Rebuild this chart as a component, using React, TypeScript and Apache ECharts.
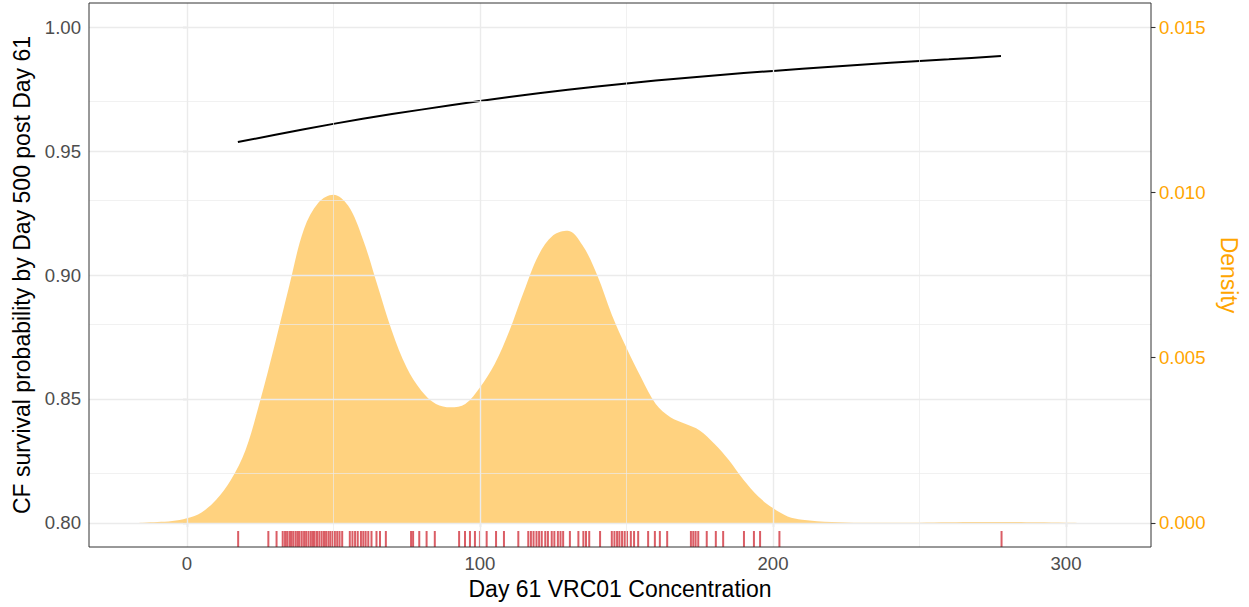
import React, { useEffect, useRef } from "react";
import * as echarts from "echarts";

// Tick values
const xTicks = [0, 100, 200, 300];
const xMinor = [50, 150, 250];
const yTicks = [0.8, 0.85, 0.9, 0.95, 1.0];
const yMinor = [0.825, 0.875, 0.925, 0.975];
const densTicks = [0, 0.005, 0.01, 0.015];

// Survival curve (left axis)
const curveX = [17.4, 40, 60, 80, 100, 120, 140, 160, 180, 200, 220, 240, 260, 277.8];
const curveY = [0.9536, 0.9588, 0.963, 0.9667, 0.9702, 0.9733, 0.976, 0.9784, 0.9805, 0.9823, 0.984, 0.9856, 0.987, 0.9883];

// Density (right axis)
const densX = [-20, -15, -10, -5, 0, 5, 10, 15, 20, 25, 30, 35, 40, 45, 50, 55, 60, 65, 70, 75, 80, 85, 90, 95, 100, 105, 110, 115, 120, 125, 130, 135, 140, 145, 150, 155, 160, 165, 170, 175, 180, 185, 190, 195, 200, 205, 210, 220, 230, 240, 250, 260, 270, 280, 290, 300, 310];
const densY = [0, 0.00001, 0.00003, 0.00006, 0.00014, 0.00032, 0.0007, 0.0013, 0.0022, 0.0037, 0.0054, 0.0072, 0.0089, 0.0097, 0.00993, 0.0096, 0.0086, 0.0072, 0.0058, 0.0047, 0.004, 0.0036, 0.0035, 0.0036, 0.0041, 0.0048, 0.0058, 0.007, 0.0081, 0.0087, 0.00884, 0.0084, 0.0075, 0.0063, 0.0053, 0.0044, 0.0036, 0.0032, 0.003, 0.0028, 0.0024, 0.0019, 0.0013, 0.0008, 0.00045, 0.0002, 0.0001, 0.00003, 0.00001, 0.00001, 0.00001, 0.00002, 0.00003, 0.00003, 0.00002, 0.00001, 0];

// Rug (observed concentrations)
const rugX = [
  17.5, 27.8, 30.6,
  32.7, 33.5, 34.2, 35.0, 35.6, 36.3, 37.1, 37.8, 38.4, 39.2, 40.0, 40.7, 41.5, 42.3, 43.0, 43.6, 44.4, 45.2, 46.0, 46.8, 47.5, 48.3, 49.0, 49.8, 50.5, 51.3, 52.1, 53.0,
  55.6, 56.5, 57.4, 58.3, 59.4, 60.2, 61.0, 61.9,
  63.0, 64.7, 65.9, 67.9,
  76.5, 77.2, 79.3, 81.8, 84.6,
  92.9, 94.9, 96.6, 98.3, 100.0, 102.3, 105.5, 108.2, 113.1,
  116.5, 117.4, 118.3, 119.3, 120.2, 121.1, 122.3, 123.2, 124.5, 125.4, 126.6, 127.5, 128.4,
  130.7, 133.6, 135.3, 136.2, 137.3,
  141.0,
  145.0, 145.9, 146.8, 147.6, 148.5, 149.4, 150.2, 151.5, 152.6, 154.0,
  157.4, 159.7, 161.4, 163.9,
  172.0, 172.8, 173.6, 174.5,
  177.4, 180.5, 183.0, 190.1, 193.5, 195.6, 202.2, 278.0,
];

const X_MIN = -33.4;
const X_MAX = 329;
const Y_MIN = 0.7903;
const Y_MAX = 1.0097;
const D_MIN = -0.000726;
const D_MAX = 0.015726;

const FONT = "'Liberation Sans', Arial, Helvetica, sans-serif";
const GRID_COLOR = "#EBEBEB";

export default function App() {
  const ref = useRef<HTMLDivElement>(null);

  useEffect(() => {
    document.body.style.margin = "0";
    if (!ref.current) return;
    const chart = echarts.init(ref.current, undefined, { renderer: "svg" });

    const gridLines: any[] = [
      ...xMinor.map((v) => ({ xAxis: v, lineStyle: { width: 0.7, color: GRID_COLOR, type: "solid" } })),
      ...yMinor.map((v) => ({ yAxis: v, lineStyle: { width: 0.7, color: GRID_COLOR, type: "solid" } })),
      ...xTicks.map((v) => ({ xAxis: v, lineStyle: { width: 1.4, color: GRID_COLOR, type: "solid" } })),
      ...yTicks.map((v) => ({ yAxis: v, lineStyle: { width: 1.4, color: GRID_COLOR, type: "solid" } })),
    ];

    chart.setOption({
      animation: false,
      backgroundColor: "#ffffff",
      textStyle: { fontFamily: FONT },
      grid: {
        left: 89,
        right: 98,
        top: 3,
        bottom: 60,
        show: true,
        borderColor: "#333333",
        borderWidth: 1,
        backgroundColor: "transparent",
        z: 10,
      },
      xAxis: {
        type: "value",
        min: X_MIN,
        max: X_MAX,
        name: "Day 61 VRC01 Concentration",
        nameLocation: "middle",
        nameGap: 30,
        nameTextStyle: { color: "#000000", fontSize: 23, fontFamily: FONT },
        axisLine: { show: false },
        axisTick: { show: true, length: 4.5, customValues: xTicks, lineStyle: { color: "#333333", width: 1.1 } },
        axisLabel: {
          customValues: xTicks,
          color: "#4D4D4D",
          fontSize: 18.6,
          fontFamily: FONT,
          margin: 7,
          formatter: (v: number) => String(v),
        },
        splitLine: { show: false },
      },
      yAxis: [
        {
          type: "value",
          min: Y_MIN,
          max: Y_MAX,
          position: "left",
          name: "CF survival probability by Day 500 post Day 61",
          nameLocation: "middle",
          nameGap: 56,
          nameRotate: 90,
          nameTextStyle: { color: "#000000", fontSize: 23, fontFamily: FONT },
          axisLine: { show: false },
          axisTick: { show: true, length: 4.5, customValues: yTicks, lineStyle: { color: "#333333", width: 1.1 } },
          axisLabel: {
            customValues: yTicks,
            color: "#4D4D4D",
            fontSize: 18.6,
            fontFamily: FONT,
            margin: 8,
            formatter: (v: number) => v.toFixed(2),
          },
          splitLine: { show: false },
        },
        {
          type: "value",
          min: D_MIN,
          max: D_MAX,
          position: "right",
          name: "Density",
          nameLocation: "middle",
          nameGap: 66,
          nameRotate: -90,
          nameTextStyle: { color: "#FFA500", fontSize: 23, fontFamily: FONT },
          axisLine: { show: false },
          axisTick: { show: true, length: 4.5, customValues: densTicks, lineStyle: { color: "#333333", width: 1.1 } },
          axisLabel: {
            customValues: densTicks,
            color: "#FFA500",
            fontSize: 18.6,
            fontFamily: FONT,
            margin: 8,
            formatter: (v: number) => v.toFixed(3),
          },
          splitLine: { show: false },
        },
      ],
      series: [
        {
          name: "grid",
          type: "line",
          data: [],
          z: 0,
          silent: true,
          markLine: {
            silent: true,
            symbol: ["none", "none"],
            label: { show: false },
            emphasis: { disabled: true },
            data: gridLines,
          },
        },
        {
          name: "density",
          type: "line",
          yAxisIndex: 1,
          data: densX.map((x, i) => [x, densY[i]]),
          smooth: 0.35,
          showSymbol: false,
          symbol: "none",
          lineStyle: { width: 0, opacity: 0 },
          areaStyle: { color: "#FFA500", opacity: 0.5, origin: 0 },
          z: 2,
          silent: true,
        },
        {
          name: "rug",
          type: "custom",
          yAxisIndex: 0,
          data: rugX.map((x) => [x, Y_MIN]),
          encode: { x: 0, y: 1 },
          z: 3,
          silent: true,
          renderItem: (_params: any, api: any) => {
            const p = api.coord([api.value(0), Y_MIN]);
            return {
              type: "rect",
              shape: { x: p[0] - 1, y: p[1] - 16, width: 2, height: 16 },
              style: { fill: "rgba(200,16,28,0.68)" },
            };
          },
        },
        {
          name: "survival",
          type: "line",
          yAxisIndex: 0,
          data: curveX.map((x, i) => [x, curveY[i]]),
          smooth: 0.3,
          showSymbol: false,
          symbol: "none",
          lineStyle: { color: "#000000", width: 2 },
          z: 4,
          silent: true,
        },
      ],
    });

    return () => chart.dispose();
  }, []);

  return <div ref={ref} style={{ width: 1249, height: 607 }} />;
}
